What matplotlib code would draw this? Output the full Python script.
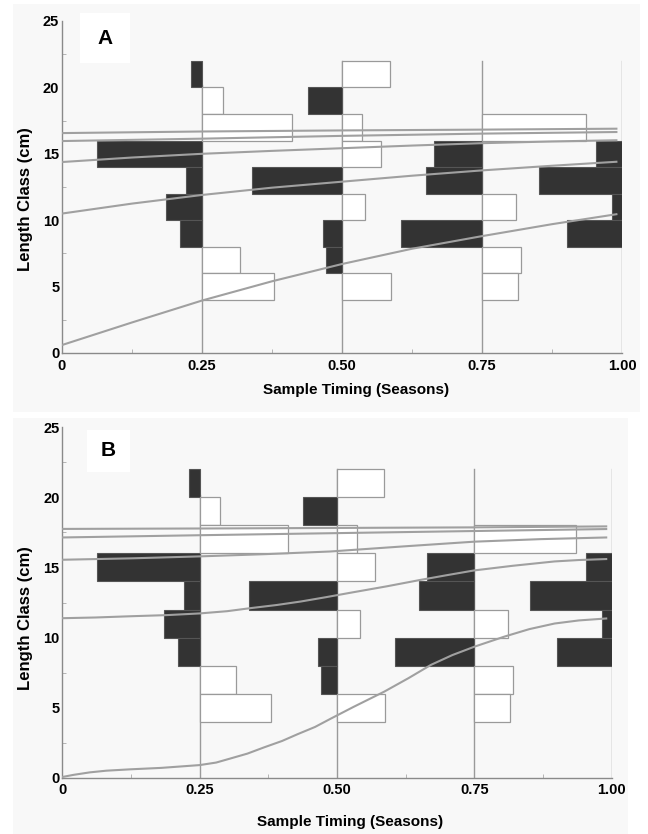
import numpy as np
import matplotlib
matplotlib.use("Agg")
import matplotlib.pyplot as plt
from matplotlib.patches import Rectangle

plt.rcParams['font.family'] = ['Liberation Sans', 'DejaVu Sans']
plt.rcParams['font.weight'] = 'bold'

W, H = 648, 834

# sample times and length-frequency bars (bin lower edge, bar width in seasons)
samples = [0.25, 0.50, 0.75, 1.00]
sample_top = [20.2, 22, 22, 22]

dark_t = [0.25] * 5 + [0.50] * 4 + [0.75] * 3 + [1.00] * 4
dark_bin = [20, 14, 12, 10, 8, 18, 12, 8, 6, 14, 12, 8, 14, 12, 10, 8]
dark_w = [0.019, 0.187, 0.028, 0.064, 0.040,
          0.061, 0.160, 0.034, 0.029,
          0.086, 0.100, 0.144,
          0.047, 0.148, 0.017, 0.099]

white_t = [0.25] * 4 + [0.50] * 5 + [0.75] * 4
white_bin = [18, 16, 6, 4, 20, 16, 14, 10, 4, 16, 10, 6, 4]
white_w = [0.0375, 0.160, 0.067, 0.129,
           0.086, 0.036, 0.070, 0.041, 0.0875,
           0.185, 0.061, 0.070, 0.065]

# growth curves, panel A
a1_x = [0, 0.125, 0.25, 0.375, 0.5, 0.625, 0.75, 0.875, 0.99]
a1_y = [0.6, 2.3, 3.95, 5.4, 6.7, 7.85, 8.8, 9.7, 10.45]
a2_x = [0, 0.125, 0.25, 0.375, 0.5, 0.625, 0.75, 0.875, 0.99]
a2_y = [10.5, 11.25, 11.9, 12.45, 12.9, 13.35, 13.75, 14.1, 14.4]
a3_x = [0, 0.125, 0.25, 0.375, 0.5, 0.625, 0.75, 0.875, 0.99]
a3_y = [14.38, 14.72, 15.0, 15.22, 15.42, 15.62, 15.8, 15.93, 16.02]
a4_x = [0, 0.25, 0.5, 0.75, 0.99]
a4_y = [15.96, 16.14, 16.35, 16.52, 16.64]
a5_x = [0, 0.25, 0.5, 0.75, 0.99]
a5_y = [16.56, 16.68, 16.76, 16.82, 16.89]

# growth curves, panel B
b1_x = [0, 0.02, 0.05, 0.08, 0.125, 0.18, 0.25, 0.28, 0.306, 0.337, 0.367, 0.4, 0.428,
        0.46, 0.488, 0.53, 0.586, 0.63, 0.671, 0.71, 0.751, 0.805, 0.85, 0.896, 0.94, 0.99]
b1_y = [0.05, 0.2, 0.38, 0.5, 0.6, 0.7, 0.9, 1.08, 1.37, 1.72, 2.16, 2.62, 3.1,
        3.62, 4.2, 5.05, 6.14, 7.1, 8.05, 8.75, 9.36, 10.07, 10.6, 11.0, 11.22, 11.36]
b2_x = [0, 0.06, 0.125, 0.19, 0.25, 0.3, 0.343, 0.39, 0.434, 0.48, 0.525, 0.59,
        0.653, 0.7, 0.75, 0.82, 0.896, 0.94, 0.99]
b2_y = [11.38, 11.43, 11.52, 11.6, 11.72, 11.88, 12.1, 12.32, 12.57, 12.88, 13.2, 13.65,
        14.12, 14.45, 14.79, 15.12, 15.43, 15.53, 15.6]
b3_x = [0, 0.125, 0.25, 0.37, 0.488, 0.62, 0.75, 0.87, 0.99]
b3_y = [15.55, 15.65, 15.79, 15.95, 16.14, 16.5, 16.84, 17.02, 17.14]
b4_x = [0, 0.25, 0.5, 0.75, 0.99]
b4_y = [17.14, 17.3, 17.45, 17.6, 17.74]
b5_x = [0, 0.25, 0.5, 0.75, 0.99]
b5_y = [17.75, 17.78, 17.82, 17.86, 17.93]

curves_a = [(a1_x, a1_y), (a2_x, a2_y), (a3_x, a3_y), (a4_x, a4_y), (a5_x, a5_y)]
curves_b = [(b1_x, b1_y), (b2_x, b2_y), (b3_x, b3_y), (b4_x, b4_y), (b5_x, b5_y)]


def fx(x):
    return x / W


def fy(y):
    return 1 - y / H


fig = plt.figure(figsize=(W / 100, H / 100), dpi=100)
fig.patch.set_facecolor('white')

# panel backgrounds (behind the axes)
fig.patches.append(Rectangle((fx(13), fy(412)), fx(640) - fx(13), fy(4) - fy(412),
                             transform=fig.transFigure, facecolor='#f8f8f8',
                             edgecolor='none', zorder=-3))
fig.patches.append(Rectangle((fx(13), fy(834)), fx(628) - fx(13), fy(418) - fy(834),
                             transform=fig.transFigure, facecolor='#f8f8f8',
                             edgecolor='none', zorder=-3))


def draw_panel(rect, curves, letter, box, lab_x, lab_y):
    ax = fig.add_axes(rect)
    ax.set_facecolor('none')

    for t, top in zip(samples, sample_top):
        ax.plot([t, t], [0, top], color='#9a9a9a', lw=1, zorder=1)

    left = [t - w for t, w in zip(dark_t, dark_w)]
    ax.barh(dark_bin, dark_w, left=left, height=2, align='edge',
            color='#333333', edgecolor='#555555', linewidth=0.8, zorder=2)
    ax.barh(white_bin, white_w, left=white_t, height=2, align='edge',
            color='white', edgecolor='#9a9a9a', linewidth=0.9, zorder=2)

    for cx, cy in curves:
        ax.plot(cx, cy, color='#a0a0a0', lw=1.5, zorder=3)

    ax.set_xlim(0, 1.0)
    ax.set_ylim(0, 25)
    ax.set_xticks([0, 0.25, 0.5, 0.75, 1.0])
    ax.set_xticklabels(['0', '0.25', '0.50', '0.75', '1.00'])
    ax.set_yticks([0, 5, 10, 15, 20, 25])
    ax.set_xticks([0.125, 0.375, 0.625, 0.875], minor=True)
    ax.set_yticks(np.arange(2.5, 25, 5), minor=True)
    ax.tick_params(which='major', length=0, labelsize=10.5, pad=4)
    ax.tick_params(axis='y', which='major', pad=2)
    ax.tick_params(which='minor', direction='in', length=3, color='#aaaaaa')

    for s in ['top', 'right']:
        ax.spines[s].set_visible(False)
    for s in ['left', 'bottom']:
        ax.spines[s].set_color('#8a8a8a')
        ax.spines[s].set_linewidth(1)

    ax.set_xlabel('Sample Timing (Seasons)', fontsize=11, fontweight='bold')
    ax.set_ylabel('Length Class (cm)', fontsize=12, fontweight='bold')
    ax.xaxis.set_label_coords(*lab_x)
    ax.yaxis.set_label_coords(*lab_y)

    x0, y0, x1, y1 = box
    fig.patches.append(Rectangle((fx(x0), fy(y1)), fx(x1) - fx(x0), fy(y0) - fy(y1),
                                 transform=fig.transFigure, facecolor='white',
                                 edgecolor='none', zorder=-2))
    fig.text(fx((x0 + x1) / 2), fy((y0 + y1) / 2), letter, ha='center', va='center',
             fontsize=15, fontweight='bold')
    return ax


draw_panel([fx(62), fy(353), fx(622) - fx(62), fy(21) - fy(353)], curves_a, 'A',
           (80, 13, 130, 63), (0.525, -0.09), (-0.052, 0.464))
draw_panel([fx(62.3), fy(777.7), fx(611.7) - fx(62.3), fy(427.3) - fy(777.7)], curves_b, 'B',
           (87, 430, 130, 472), (0.524, -0.106), (-0.053, 0.457))

fig.savefig('out.png', dpi=100)
